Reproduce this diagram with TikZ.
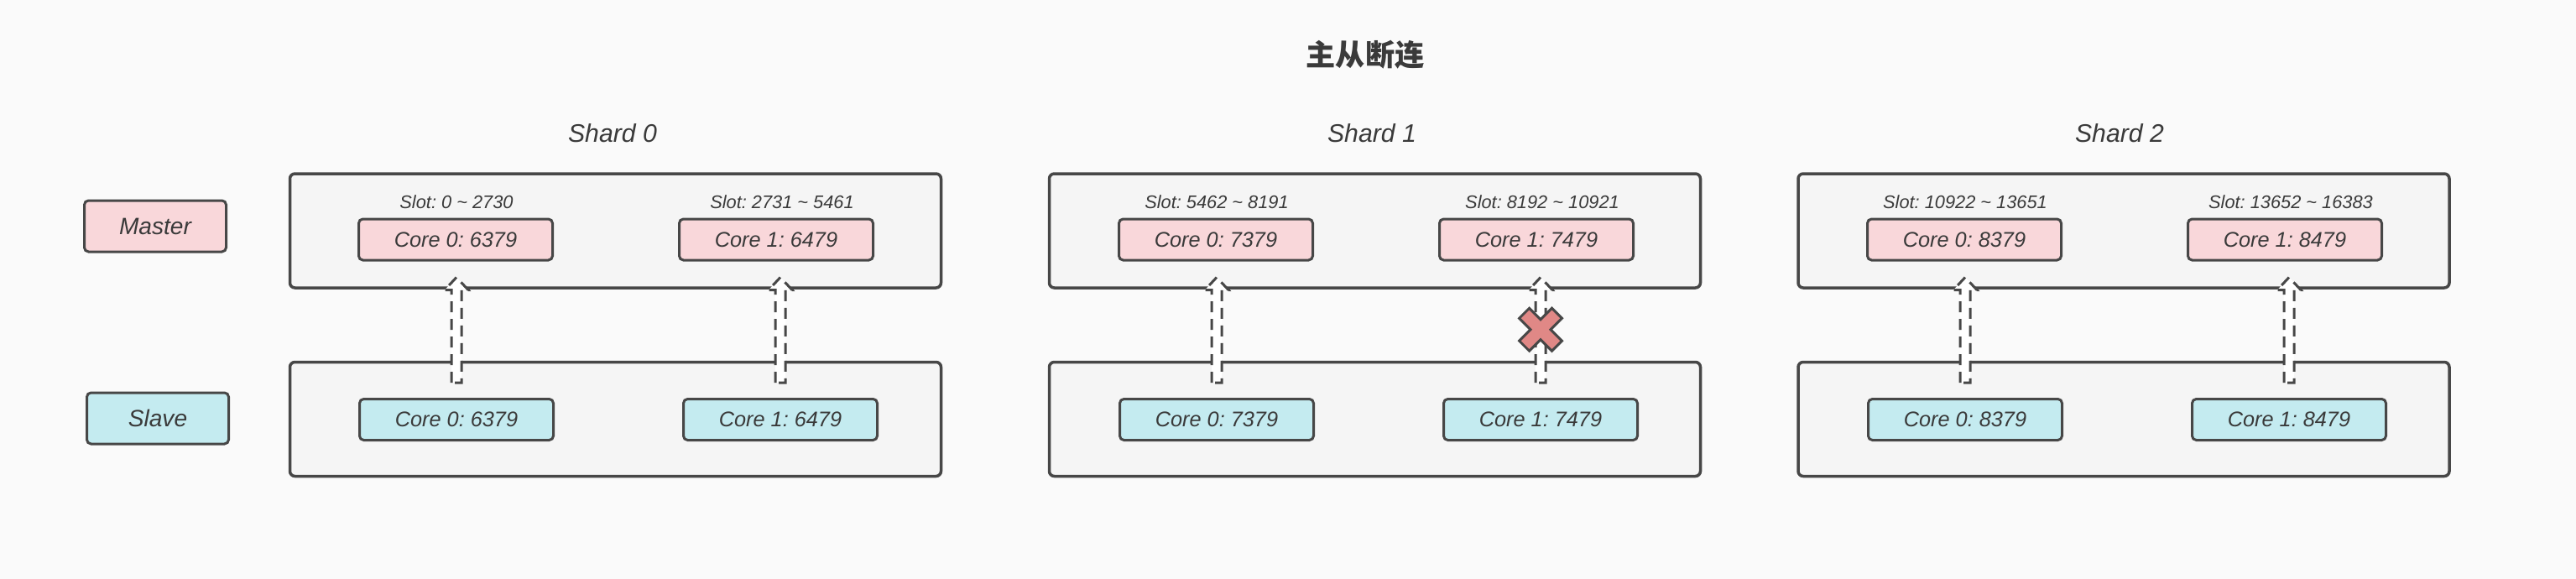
\documentclass[tikz,border=0pt]{standalone}
\usepackage{fontspec}
\setmainfont{Liberation Sans}
\newfontfamily\cjk{Noto Sans CJK SC}
\usepackage{xcolor}
\usetikzlibrary{calc}
\frenchspacing

\definecolor{ink}{HTML}{3A3A3A}
\definecolor{edge}{HTML}{474747}
\definecolor{paper}{HTML}{FAFAFA}
\definecolor{shardbg}{HTML}{F5F5F5}
\definecolor{masterbg}{HTML}{F9D7DA}
\definecolor{slavebg}{HTML}{C4EBF0}
\definecolor{cutred}{HTML}{E08886}

\tikzset{
	shardbox/.style={draw=edge, fill=shardbg, line width=0.035cm, rounded corners=0.06cm,
		minimum width=7.76cm, minimum height=1.36cm, inner sep=0},
	corebox/.style={draw=edge, line width=0.03cm, rounded corners=0.05cm, minimum width=2.31cm,
		minimum height=0.49cm, inner sep=0, text=ink, font=\fontsize{7.2}{8}\selectfont\itshape},
	master/.style={corebox, fill=masterbg},
	slave/.style={corebox, fill=slavebg},
	rolebox/.style={corebox, minimum width=1.69cm, minimum height=0.61cm,
		font=\fontsize{8}{9}\selectfont\itshape},
	slotlabel/.style={text=ink, font=\fontsize{6.2}{7}\selectfont\itshape, inner sep=0},
	shardlabel/.style={text=ink, font=\fontsize{8.6}{10}\selectfont\itshape, inner sep=0},
	syncline/.style={draw=edge, fill=white, line width=0.03cm, dash pattern=on 0.13cm off 0.08cm},
	cutmark/.style={draw=edge, fill=cutred, line width=0.03cm}
}

% hollow dashed arrow from a slave core up to its master core
\newcommand{\syncarrow}[2]{%
	\path[syncline] let \p1=(#1.north), \p2=(#2.south) in
	(\x1-0.06cm,\y1+0.18cm) -- (\x1-0.06cm,\y2-0.34cm) -- (\x1-0.14cm,\y2-0.34cm)
	-- (\x1,\y2-0.19cm) -- (\x1+0.14cm,\y2-0.34cm) -- (\x1+0.06cm,\y2-0.34cm)
	-- (\x1+0.06cm,\y1+0.18cm) -- cycle;}

\begin{document}
\begin{tikzpicture}
		% background
		\fill[paper] (0,0) rectangle (30.70,-6.90);
		\useasboundingbox (0,0) rectangle (30.70,-6.90);
		
		% title
		\node[text=ink, font=\cjk\bfseries\fontsize{10}{12}\selectfont] (title) at (16.27,-0.65) {主从断连};
		
		% role labels
		\node[rolebox, fill=masterbg] (master) at (1.85,-2.695) {Master};
		\node[rolebox, fill=slavebg] (slave) at (1.88,-4.985) {Slave};
		
		% shard 0
		\node[shardlabel] (shard0) at (7.30,-1.59) {Shard 0};
		\node[shardbox] (m0) at (7.335,-2.75) {};
		\node[shardbox] (s0) at (7.335,-4.995) {};
		\node[slotlabel] (slot00) at (5.44,-2.41) {Slot: 0 \textasciitilde{} 2730};
		\node[slotlabel] (slot01) at (9.32,-2.41) {Slot: 2731 \textasciitilde{} 5461};
		\node[master] (m00) at (5.43,-2.855) {Core 0: 6379};
		\node[master] (m01) at (9.25,-2.855) {Core 1: 6479};
		\node[slave] (s00) at (5.44,-5.00) {Core 0: 6379};
		\node[slave] (s01) at (9.30,-5.00) {Core 1: 6479};
		
		% shard 1
		\node[shardlabel] (shard1) at (16.35,-1.59) {Shard 1};
		\node[shardbox] (m1) at (16.385,-2.75) {};
		\node[shardbox] (s1) at (16.385,-4.995) {};
		\node[slotlabel] (slot10) at (14.50,-2.41) {Slot: 5462 \textasciitilde{} 8191};
		\node[slotlabel] (slot11) at (18.38,-2.41) {Slot: 8192 \textasciitilde{} 10921};
		\node[master] (m10) at (14.49,-2.855) {Core 0: 7379};
		\node[master] (m11) at (18.31,-2.855) {Core 1: 7479};
		\node[slave] (s10) at (14.50,-5.00) {Core 0: 7379};
		\node[slave] (s11) at (18.36,-5.00) {Core 1: 7479};
		
		% shard 2
		\node[shardlabel] (shard2) at (25.26,-1.59) {Shard 2};
		\node[shardbox] (m2) at (25.31,-2.75) {};
		\node[shardbox] (s2) at (25.31,-4.995) {};
		\node[slotlabel] (slot20) at (23.42,-2.41) {Slot: 10922 \textasciitilde{} 13651};
		\node[slotlabel] (slot21) at (27.30,-2.41) {Slot: 13652 \textasciitilde{} 16383};
		\node[master] (m20) at (23.41,-2.855) {Core 0: 8379};
		\node[master] (m21) at (27.23,-2.855) {Core 1: 8479};
		\node[slave] (s20) at (23.42,-5.00) {Core 0: 8379};
		\node[slave] (s21) at (27.28,-5.00) {Core 1: 8479};
		
		% replication arrows
		\syncarrow{s00}{m00}
		\syncarrow{s01}{m01}
		\syncarrow{s10}{m10}
		\syncarrow{s11}{m11}
		\syncarrow{s20}{m20}
		\syncarrow{s21}{m21}
		
		% broken link
		\coordinate (cut) at ($(s11.north)!0.5!(s11.north |- m11.south)$);
		\draw[cutmark, shift={(cut)}, rotate=45]
		(0.085,0.085) -- (0.085,0.275) -- (-0.085,0.275) -- (-0.085,0.085)
		-- (-0.275,0.085) -- (-0.275,-0.085) -- (-0.085,-0.085) -- (-0.085,-0.275)
		-- (0.085,-0.275) -- (0.085,-0.085) -- (0.275,-0.085) -- (0.275,0.085) -- cycle;
\end{tikzpicture}
\end{document}
